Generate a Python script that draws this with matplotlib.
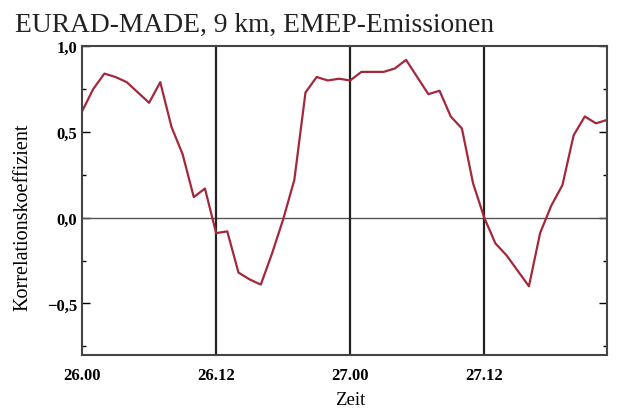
import numpy as np
import matplotlib.pyplot as plt
from matplotlib.ticker import FixedLocator, FuncFormatter

# Stundenwerte 26.00 - 27.23
stunden = np.arange(48)
korrelation = [0.62, 0.75, 0.84, 0.82, 0.79, 0.73, 0.67, 0.79, 0.53, 0.37,
               0.12, 0.17, -0.09, -0.08, -0.32, -0.36, -0.39, -0.21, -0.01, 0.22,
               0.73, 0.82, 0.80, 0.81, 0.80, 0.85, 0.85, 0.85, 0.87, 0.92,
               0.82, 0.72, 0.74, 0.59, 0.52, 0.20, 0.00, -0.15, -0.22, -0.31,
               -0.40, -0.09, 0.07, 0.19, 0.48, 0.59, 0.55, 0.57]
zeit_ticks = [0, 12, 24, 36]
zeit_labels = ["26.00", "26.12", "27.00", "27.12"]
y_major = [-0.5, 0.0, 0.5, 1.0]
y_minor = [-0.75, -0.25, 0.25, 0.75]

plt.rcParams['font.family'] = ['Liberation Serif', 'DejaVu Serif']

fig = plt.figure(figsize=(6.17, 4.10), dpi=100)
ax = fig.add_axes([0.133, 0.132, 0.851, 0.753])

ax.axhline(0, color="#555555", lw=1.0)
for t in zeit_ticks[1:]:
    ax.axvline(t, color="#222222", lw=1.6)
ax.plot(stunden, korrelation, color="#a3283c", lw=1.6)

ax.set_xlim(0, 47)
ax.set_ylim(-0.8, 1.0)

ax.set_xticks(zeit_ticks)
ax.set_xticklabels(zeit_labels, fontweight="bold", fontsize=12)
ax.tick_params(axis="x", length=0, pad=9)

ax.yaxis.set_major_locator(FixedLocator(y_major))
ax.yaxis.set_minor_locator(FixedLocator(y_minor))
ax.yaxis.set_major_formatter(FuncFormatter(lambda v, p: f"{v:.1f}".replace(".", ",").replace("-", "\u2212")))
ax.tick_params(axis="y", which="both", direction="in", right=True, labelsize=12)
ax.tick_params(axis="y", which="major", length=6, width=1)
ax.tick_params(axis="y", which="minor", length=3, width=1)
for lab in ax.get_yticklabels():
    lab.set_fontweight("bold")

for s in ax.spines.values():
    s.set_color("#444444")
    s.set_linewidth(1.5)

ax.set_ylabel("Korrelationskoeffizient", fontsize=14.5)
ax.yaxis.set_label_coords(-0.095, 0.45)
ax.set_xlabel("Zeit", fontsize=13.5, va="top")
ax.xaxis.set_label_coords(0.51, -0.117)
fig.text(0.024, 0.922, "EURAD-MADE, 9 km, EMEP-Emissionen", fontsize=19.8, color="#222222")

fig.savefig("out.png", dpi=100)
